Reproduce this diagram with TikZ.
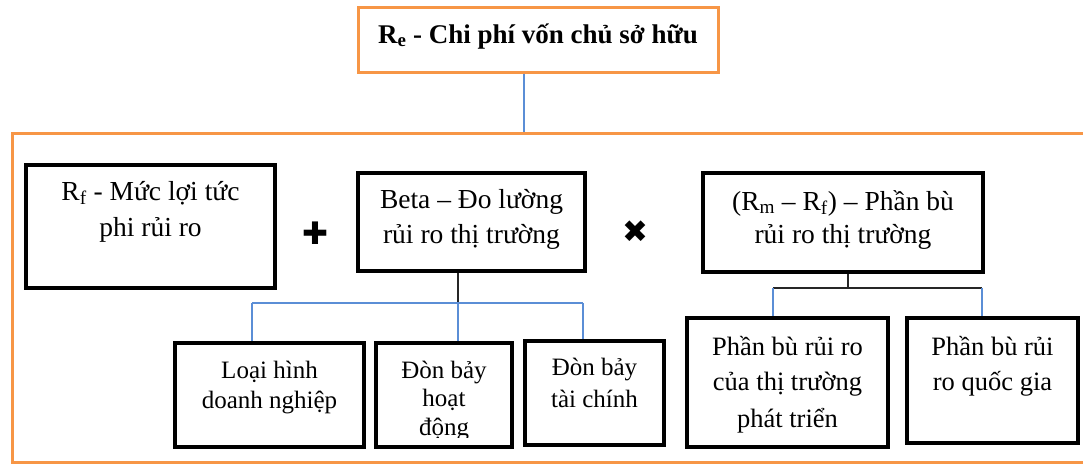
\documentclass[tikz,border=0pt]{standalone}
\usepackage{fontspec}
\setmainfont{Liberation Serif}
\newfontfamily\symfont{DejaVu Sans}
\definecolor{orng}{HTML}{F79646}
\definecolor{lblue}{HTML}{5B8ED6}
\begin{document}
\begin{tikzpicture}[x=1pt,y=-1pt,
  bbox/.style={draw=black, line width=3.5pt, inner sep=0pt, fill=white},
  obox/.style={draw=orng, line width=3pt, inner sep=0pt},
  txt/.style={anchor=base, inner sep=0pt, font=\fontsize{27.5}{32}\selectfont},
  stxt/.style={anchor=base, inner sep=0pt, font=\fontsize{25}{30}\selectfont},
  mtxt/.style={anchor=base, inner sep=0pt, font=\fontsize{26.5}{32}\selectfont},
  bconn/.style={draw=lblue, line width=1.4pt},
  kconn/.style={draw=black!85, line width=1.4pt},
  sym/.style={inner sep=0pt, font=\symfont\fontsize{31}{34}\selectfont}]
\useasboundingbox (0,0) rectangle (1083,464);
% container and title
\node[obox, minimum width=1088pt, minimum height=329pt] (B) at (556,297.5) {};
\node[obox, fill=white, minimum width=360pt, minimum height=65pt] (T) at (538,39.5) {};
\node[txt, font=\fontsize{27}{32}\selectfont\bfseries] (Tt) at (538,43) {R\textsubscript{e} - Chi phí vốn chủ sở hữu};
\coordinate (t1) at (524,133);
\draw[bconn] (T.south -| t1) -- (t1 |- B.north);
% upper row
\node[bbox, minimum width=249pt, minimum height=123pt] (rf) at (150.5,226.5) {};
\node[txt] (rf1) at (150.5,200) {R\textsubscript{f} - Mức lợi tức};
\node[txt] (rf2) at (150.5,236) {phi rủi ro};
\node[sym] (plus) at (315,233) {✚};
\node[bbox, minimum width=227pt, minimum height=98pt] (beta) at (471.5,222) {};
\node[txt] (beta1) at (471.5,208) {Beta – Đo lường};
\node[txt] (beta2) at (471.5,243) {rủi ro thị trường};
\node[sym] (times) at (635,232) {✖};
\node[bbox, minimum width=280pt, minimum height=99pt] (rm) at (843,222.5) {};
\node[txt] (rm1) at (843,210) {(R\textsubscript{m} – R\textsubscript{f}) – Phần bù};
\node[txt] (rm2) at (843,243) {rủi ro thị trường};
% lower left group
\node[bbox, minimum width=189pt, minimum height=104pt] (l1) at (269.5,395) {};
\node[stxt] (l1a) at (269.5,378) {Loại hình};
\node[stxt] (l1b) at (269.5,408) {doanh nghiệp};
\node[bbox, minimum width=136pt, minimum height=104pt] (l2) at (444,395) {};
\node[stxt] (l2a) at (444,378) {Đòn bảy};
\node[stxt] (l2b) at (444,406) {hoạt};
\begin{scope}
\clip (376,343) rectangle (512,437);
\node[stxt] (l2c) at (444,435) {động};
\end{scope}
\node[bbox, minimum width=139pt, minimum height=104pt] (l3) at (594.5,393) {};
\node[stxt] (l3a) at (594.5,375) {Đòn bảy};
\node[stxt] (l3b) at (594.5,407) {tài chính};
\coordinate (j1) at (252,303);
\coordinate (j2) at (458,303);
\coordinate (j3) at (583,303);
\draw[kconn] (beta.south -| j2) -- (j2);
\draw[bconn] (j1) -- (j3);
\draw[bconn] (j1) -- (j1 |- l1.north);
\draw[bconn] (j2) -- (j2 |- l2.north);
\draw[bconn] (j3) -- (j3 |- l3.north);
% lower right group
\node[bbox, minimum width=201pt, minimum height=129pt] (p1) at (787.5,382.5) {};
\node[mtxt] (p1a) at (787.5,355) {Phần bù rủi ro};
\node[mtxt] (p1b) at (787.5,390) {của thị trường};
\node[mtxt] (p1c) at (787.5,427) {phát triển};
\node[bbox, minimum width=171pt, minimum height=125pt] (p2) at (992.5,380.5) {};
\node[mtxt] (p2a) at (992.5,355) {Phần bù rủi};
\node[mtxt] (p2b) at (992.5,390) {ro quốc gia};
\coordinate (k1) at (773,288);
\coordinate (k2) at (848,288);
\coordinate (k3) at (982,288);
\draw[kconn] (rm.south -| k2) -- (k2);
\draw[kconn] (k1) -- (k3);
\draw[bconn] (k1) -- (k1 |- p1.north);
\draw[bconn] (k3) -- (k3 |- p2.north);
\end{tikzpicture}
\end{document}
